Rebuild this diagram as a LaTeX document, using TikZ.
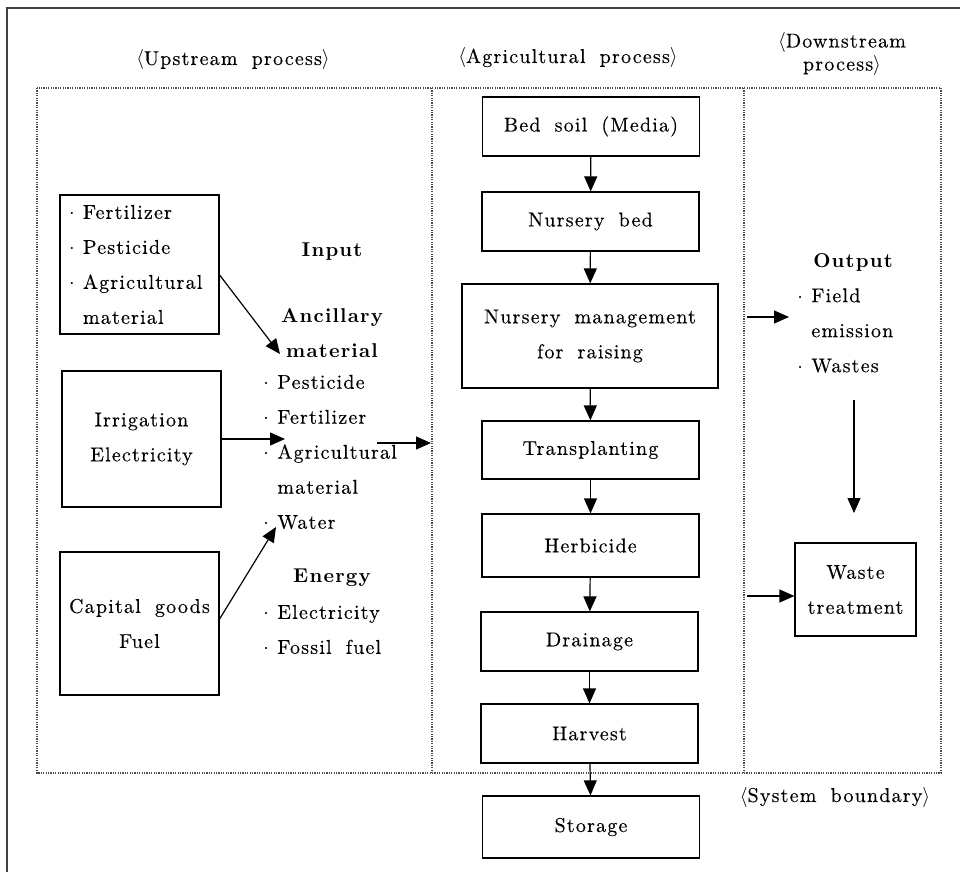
\documentclass[tikz,border=0pt]{standalone}
\usepackage{fontspec}
\setmainfont{lmroman10}[Extension=.otf,UprightFont=*-regular,BoldFont=*-bold,ItalicFont=*-italic,BoldItalicFont=*-bolditalic,UprightFeatures={FakeBold=0.3},LetterSpace=6,WordSpace=1.8]
\usetikzlibrary{arrows.meta}
\newcommand{\basefont}{\fontsize{10}{17.5}\selectfont}
\newcommand{\bul}{\makebox[7pt][l]{$\cdot$}}
\newcommand{\hang}{\hspace*{7pt}}
\newcommand{\lang}[1]{$\langle$#1$\rangle$}

\begin{document}
\begin{tikzpicture}[x=0.5pt,y=-0.5pt]
    \tikzstyle{every node} = [font=\basefont, inner sep=0pt]
    \tikzstyle{rect} = [draw, rectangle, line width=0.6pt, minimum width=108.5pt, minimum height=29.5pt]
    \tikzstyle{srcbox} = [draw, rectangle, line width=0.6pt, minimum width=79.5pt]
    \tikzstyle{lbl} = [font=\basefont\bfseries, align=center]
    \tikzstyle{arr} = [-{Triangle[length=7.5pt,width=6.5pt]}, line width=0.6pt]
    \tikzstyle{boundary} = [line width=0.6pt, black!70, dash pattern=on 0.6pt off 0.6pt]
    \useasboundingbox (0,0) rectangle (960,872);
    \draw[line width=1pt, black!75] (7,872) -- (7,8) -- (960,8);

    % headers
    \node (hup) at (233,60) {\lang{Upstream process}};
    \node (hagri) at (568,58) {\lang{Agricultural process}};
    \node (hdown) [align=center, font=\fontsize{10}{11.5}\selectfont] at (842,54) {$\langle$Downstream\\process$\rangle$};
    \node (hsys) at (835,797) {\lang{System boundary}};

    % system boundary
    \draw[boundary] (37,88) rectangle (941,773);
    \draw[boundary] (432,88) -- (432,773);
    \draw[boundary] (744,88) -- (744,773);

    % upstream
    \node (fert) [srcbox, minimum height=69.5pt, inner xsep=4.5pt, text width=70.5pt, align=left] at (139.5,264.5)
        {\bul Fertilizer\\ \bul Pesticide\\ \bul Agricultural\\ \hang material};
    \node (irrig) [srcbox, minimum height=68pt, align=center] at (141.5,439) {Irrigation\\Electricity};
    \node (capital) [srcbox, minimum height=71.5pt, align=center] at (139.5,623.5) {Capital goods\\Fuel};

    \node (input) [lbl] at (332,252) {Input};
    \node (ancil) [lbl] at (332,333) {Ancillary\\material};
    \node (anclist) [anchor=west, align=left] at (263,452)
        {\bul Pesticide\\ \bul Fertilizer\\ \bul Agricultural\\ \hang material\\ \bul Water};
    \node (energy) [lbl] at (332,578) {Energy};
    \node (energylist) [anchor=west, align=left] at (263,629.5) {\bul Electricity\\ \bul Fossil fuel};

    % agricultural process
    \node (bed) [rect] at (591,126.5) {Bed soil (Media)};
    \node (nbed) [rect] at (590.5,221.5) {Nursery bed};
    \node (nmgmt) [rect, minimum width=128pt, minimum height=52pt, align=center] at (590,336) {Nursery management\\for raising};
    \node (trans) [rect, minimum height=29pt] at (590.5,450) {Transplanting};
    \node (herb) [rect, minimum height=31.5pt] at (590.5,545.5) {Herbicide};
    \node (drain) [rect] at (589.5,641.5) {Drainage};
    \node (harv) [rect] at (589.5,733.5) {Harvest};
    \node (stor) [rect, minimum height=31pt] at (591,827) {Storage};

    % downstream
    \node (output) [lbl] at (853,262) {Output};
    \node (outlist) [anchor=west, align=left] at (797,330.5) {\bul Field\\ \hang emission\\ \bul Wastes};
    \node (waste) [draw, rectangle, line width=0.6pt, minimum width=60.5pt, minimum height=46.5pt, align=center] at (855.5,589.5) {Waste\\treatment};

    \coordinate (a1) at (280,354);
    \coordinate (a2) at (285,439);
    \coordinate (a3) at (276,527);
    \coordinate (a4s) at (377,443);
    \coordinate (a4e) at (431,443);
    \coordinate (o1s) at (747,317);
    \coordinate (o1e) at (789,317);
    \coordinate (o2s) at (854,400);
    \coordinate (o2e) at (854,513);
    \coordinate (o3s) at (747,596);

    \draw[arr] ([yshift=-5.25pt]fert.east) -- (a1);
    \draw[arr] (irrig.east) -- (a2);
    \draw[arr] ([yshift=2.25pt]capital.east) -- (a3);
    \draw[arr] (a4s) -- (a4e);
    \draw[arr] (bed) -- (nbed);
    \draw[arr] (nbed) -- (nmgmt);
    \draw[arr] (nmgmt) -- (trans);
    \draw[arr] (trans) -- (herb);
    \draw[arr] (herb) -- (drain);
    \draw[arr] (drain) -- (harv);
    \draw[arr] (harv) -- (stor);
    \draw[arr] (o1s) -- (o1e);
    \draw[arr] (o2s) -- (o2e);
    \draw[arr] (o3s) -- ([yshift=-3.25pt]waste.west);
\end{tikzpicture}
\end{document}
